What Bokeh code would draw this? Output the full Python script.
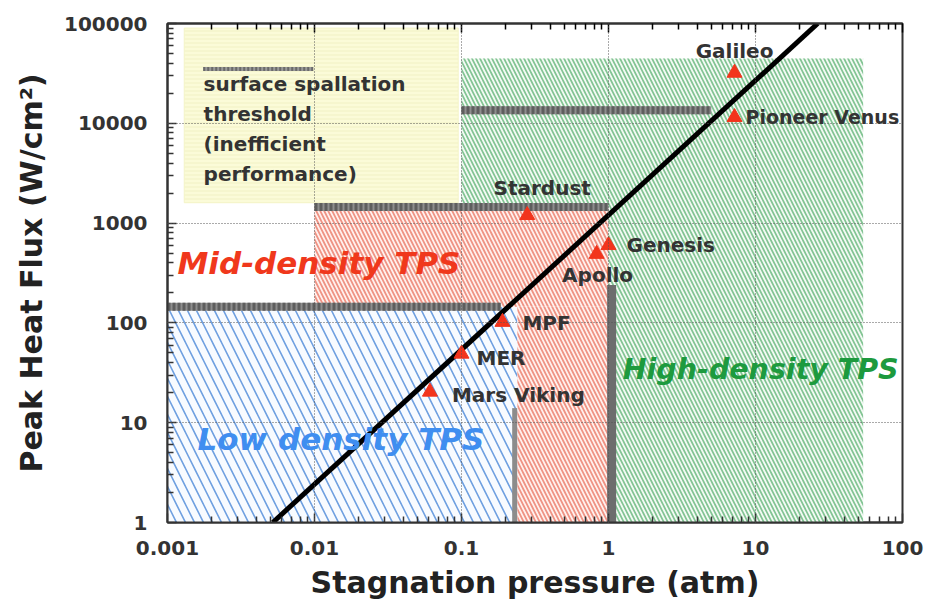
from bokeh.plotting import figure
from bokeh.models import Range1d, FixedTicker, LogAxis, Label, LabelSet, ColumnDataSource
from bokeh.core.properties import value
from bokeh.embed import file_html
from bokeh.resources import INLINE

# ---------------- data ----------------
x_ticks = [0.001, 0.01, 0.1, 1, 10, 100]
x_tick_labels = ["0.001", "0.01", "0.1", "1", "10", "100"]
y_ticks = [1, 10, 100, 1000, 10000, 100000]
y_tick_labels = ["1", "10", "100", "1000", "10000", "100000"]

missions = ["Galileo", "Pioneer Venus", "Stardust", "Genesis", "Apollo", "MPF", "MER", "Mars Viking"]
mission_pressure = [7.2, 7.2, 0.28, 1.0, 0.83, 0.19, 0.10, 0.061]
mission_heat_flux = [32000, 11500, 1200, 600, 490, 102, 49, 20.4]

trend_pressure = [0.0052, 26.5]
trend_heat_flux = [1, 100000]

spall_left = [0.0013]
spall_right = [0.095]
spall_bottom = [1600]
spall_top = [90000]

low_left = [0.001]
low_right = [0.24]
low_bottom = [1]
low_top = [145]

mid_left = [0.01, 0.24]
mid_right = [1.0, 1.0]
mid_bottom = [145, 1]
mid_top = [1450, 145]

high_left = [0.1, 1.0]
high_right = [54, 54]
high_bottom = [1450, 1]
high_top = [44700, 1450]

thr_h_x0 = [0.1, 0.01, 0.001]
thr_h_x1 = [5.0, 1.0, 0.185]
thr_h_y = [13500, 1450, 145]

thr_v_x = [0.23, 1.05]
thr_v_y0 = [1, 1]
thr_v_y1 = [14, 240]

spall_sample_x = [0.00175, 0.0098]
spall_sample_y = [35000, 35000]

spall_text = "surface spallation\nthreshold\n(inefficient\nperformance)"
region_names = ["Mid-density TPS", "Low density TPS", "High-density TPS"]

# ---------------- styles / layout ----------------
FONT = "DejaVu Sans"
label_dx = [0, 11, 15, 18, 1, 20, 15, 22]
label_dy = [22, 0, 27, 0, -21, -1, -4, -3]
label_align = ["center", "left", "center", "left", "center", "left", "left", "left"]
label_size = ["20px", "19px", "20px", "20px", "20px", "20px", "20px", "20px"]

p = figure(width=935, height=610, x_axis_type="log", y_axis_type="log",
           x_range=Range1d(0.001, 100), y_range=Range1d(1, 100000),
           output_backend="svg", toolbar_location=None,
           min_border_left=167, min_border_right=33, min_border_top=23, min_border_bottom=88)
p.background_fill_color = "white"
p.border_fill_color = "white"
p.outline_line_color = "#333333"
p.outline_line_width = 2

# regions
p.quad(left=spall_left, right=spall_right, bottom=spall_bottom, top=spall_top,
       fill_color="#fbfbd8", line_color="#f4f4c8", line_width=1,
       hatch_pattern="horizontal_line", hatch_color="#f1f1c4", hatch_scale=4, hatch_weight=1)
p.quad(left=low_left, right=low_right, bottom=low_bottom, top=low_top,
       fill_color="#f8fbff", line_color=None,
       hatch_pattern="\\", hatch_color="#6e9fe0", hatch_scale=18, hatch_weight=1.6)
p.quad(left=mid_left, right=mid_right, bottom=mid_bottom, top=mid_top,
       fill_color="#fff1ee", line_color=None,
       hatch_pattern="\\", hatch_color="#ef9384", hatch_scale=8, hatch_weight=1.8)
p.quad(left=high_left, right=high_right, bottom=high_bottom, top=high_top,
       fill_color="#f3faf4", line_color=None,
       hatch_pattern="\\", hatch_color="#82c493", hatch_scale=8, hatch_weight=1.7)

# threshold lines
p.segment(x0=thr_h_x0, x1=thr_h_x1, y0=thr_h_y, y1=thr_h_y, line_color="#8e8e8e", line_width=8)
p.segment(x0=thr_h_x0, x1=thr_h_x1, y0=thr_h_y, y1=thr_h_y, line_color="#5e5e5e", line_width=8,
          line_dash="3 2")
p.segment(x0=thr_v_x[:1], x1=thr_v_x[:1], y0=thr_v_y0[:1], y1=thr_v_y1[:1],
          line_color="#8c8c8c", line_width=5)
p.segment(x0=thr_v_x[1:], x1=thr_v_x[1:], y0=thr_v_y0[1:], y1=thr_v_y1[1:],
          line_color="#6d6d6d", line_width=9)
p.line(spall_sample_x, spall_sample_y, line_color="#9a9a9a", line_width=4)
p.line(spall_sample_x, spall_sample_y, line_color="#6a6a6a", line_width=4, line_dash="2 2")

# trend line
p.line(trend_pressure, trend_heat_flux, line_color="black", line_width=5)

# missions
src = ColumnDataSource(dict(x=mission_pressure, y=mission_heat_flux, name=missions,
                            dx=label_dx, dy=label_dy, align=label_align, size=label_size))
p.scatter("x", "y", source=src, marker="triangle", size=15, fill_color="#f2341c", line_color="#f2341c")
p.add_layout(LabelSet(x="x", y="y", text="name", source=src, x_offset="dx", y_offset="dy",
                      text_align="align", text_baseline="middle", text_font=value(FONT),
                      text_font_style="bold", text_font_size="size", text_color="#333333",
                      level="overlay"))

# annotation texts
p.text(x=[0.00176], y=[8700], text=[spall_text], text_font=value(FONT), text_font_style="bold",
       text_font_size="20px", text_color="#333333", text_baseline="middle", text_align="left",
       text_line_height=1.25)

region_x = [0.00117, 0.0016, 1.25]
region_y = [398, 6.8, 34]
region_colors = ["#f0381c", "#3f8ef0", "#1d9a3e"]
region_sizes = ["31px", "31px", "28.5px"]
for name, rx, ry, col, fs in zip(region_names, region_x, region_y, region_colors, region_sizes):
    p.add_layout(Label(x=rx, y=ry, text=name, text_font=FONT, text_font_style="bold italic",
                       text_font_size=fs, text_color=col, text_baseline="middle",
                       text_align="left", level="overlay"))

# axes
xt = FixedTicker(ticks=x_ticks, minor_ticks=[m * 10.0 ** e for e in range(-3, 2) for m in range(2, 10)])
yt = FixedTicker(ticks=y_ticks, minor_ticks=[m * 10.0 ** e for e in range(0, 5) for m in range(2, 10)])

for ax, t, labs, ticks in ((p.xaxis[0], xt, x_tick_labels, x_ticks), (p.yaxis[0], yt, y_tick_labels, y_ticks)):
    ax.ticker = t
    ax.major_label_overrides = {float(k): v for k, v in zip(ticks, labs)}
    ax.major_tick_in = 9
    ax.major_tick_out = 0
    ax.minor_tick_in = 6
    ax.minor_tick_out = 0
    ax.axis_line_color = "#333333"
    ax.axis_line_width = 2
    ax.major_tick_line_color = "#333333"
    ax.major_tick_line_width = 1.5
    ax.minor_tick_line_color = "#333333"
    ax.minor_tick_line_width = 1.5
    ax.major_label_text_font = FONT
    ax.major_label_text_font_style = "bold"
    ax.major_label_text_font_size = "20px"
    ax.major_label_text_color = "#333333"
    ax.axis_label_text_font = FONT
    ax.axis_label_text_font_style = "bold"
    ax.axis_label_text_font_size = "30px"
    ax.axis_label_text_color = "#222222"

p.xaxis.axis_label = "Stagnation pressure (atm)"
p.yaxis.axis_label = "Peak Heat Flux (W/cm²)"
p.xaxis.major_label_standoff = 18
p.yaxis.major_label_standoff = 20
p.xaxis.axis_label_standoff = 7
p.yaxis.axis_label_standoff = 12

top = LogAxis(ticker=xt, major_tick_in=9, major_tick_out=0,
              minor_tick_in=6, minor_tick_out=0, axis_line_color="#333333", axis_line_width=2,
              major_tick_line_width=1.5, minor_tick_line_width=1.5, major_label_standoff=0,
              major_label_text_font_size="1px", major_label_text_alpha=0)
p.add_layout(top, "above")

p.xgrid.ticker = xt
p.ygrid.ticker = yt
for g in (p.xgrid[0], p.ygrid[0]):
    g.grid_line_color = "#555555"
    g.grid_line_dash = "1 2"
    g.grid_line_width = 1
    g.level = "overlay"

open("out.html", "w").write(file_html(p, INLINE))
